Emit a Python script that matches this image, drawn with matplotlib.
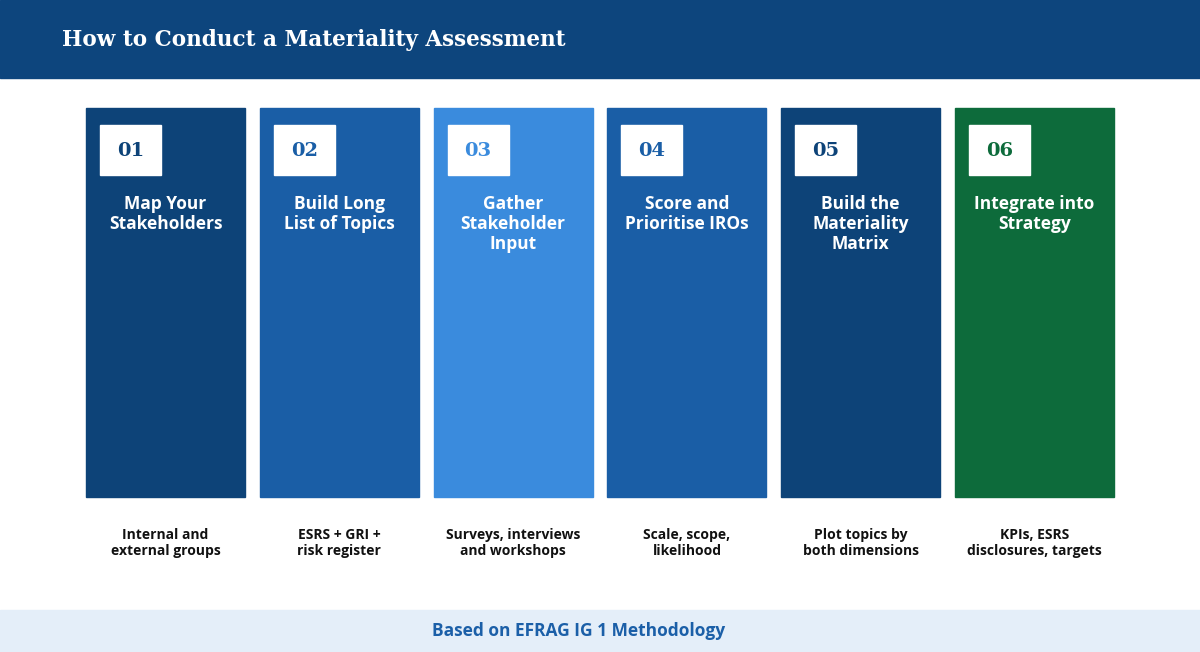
import matplotlib
matplotlib.use("Agg")
import matplotlib.pyplot as plt
from matplotlib.patches import Rectangle

title = "How to Conduct a Materiality Assessment"
numbers = ["01", "02", "03", "04", "05", "06"]
steps = ["Map Your\nStakeholders", "Build Long\nList of Topics", "Gather\nStakeholder\nInput",
         "Score and\nPrioritise IROs", "Build the\nMateriality\nMatrix", "Integrate into\nStrategy"]
descs = ["Internal and\nexternal groups", "ESRS + GRI +\nrisk register", "Surveys, interviews\nand workshops",
         "Scale, scope,\nlikelihood", "Plot topics by\nboth dimensions", "KPIs, ESRS\ndisclosures, targets"]
colors = ["#0d4378", "#1a5ea6", "#3a8bdd", "#1a5ea6", "#0d4378", "#0d6b3b"]
footer = "Based on EFRAG IG 1 Methodology"

W, H = 1200, 652
fig = plt.figure(figsize=(12, 6.52), dpi=100)
ax = fig.add_axes([0, 0, 1, 1])
ax.set_xlim(0, W); ax.set_ylim(H, 0); ax.axis("off")

ax.add_patch(Rectangle((0, 0), W, 78, color="#0d457d"))
ax.text(62, 40, title, color="white", fontsize=15.5, fontweight="bold", family="DejaVu Serif", va="center")

x0, cw, gap = 86, 159, 173.8
for i in range(6):
    x = x0 + i * gap
    ax.add_patch(Rectangle((x, 108), cw, 389, color=colors[i]))
    ax.add_patch(Rectangle((x + 14, 125), 61, 50, color="white"))
    ax.text(x + 44.5, 151, numbers[i], color=colors[i], fontsize=14, fontweight="bold",
            family="DejaVu Serif", ha="center", va="center")
    ax.text(x + cw / 2, 195, steps[i], color="white", fontsize=12.5, fontweight="bold",
            family="Open Sans", ha="center", va="top", linespacing=1.15)
    ax.text(x + cw / 2, 543, descs[i], color="#111111", fontsize=10, fontweight="bold",
            family="Open Sans", ha="center", va="center", linespacing=1.2)

ax.add_patch(Rectangle((0, 610), W, 42, color="#e4eef9"))
ax.text(579, 631, footer, color="#1b5fa8", fontsize=12.5, fontweight="bold",
        family="Open Sans", ha="center", va="center")

fig.savefig("out.png", dpi=100, facecolor="white")
